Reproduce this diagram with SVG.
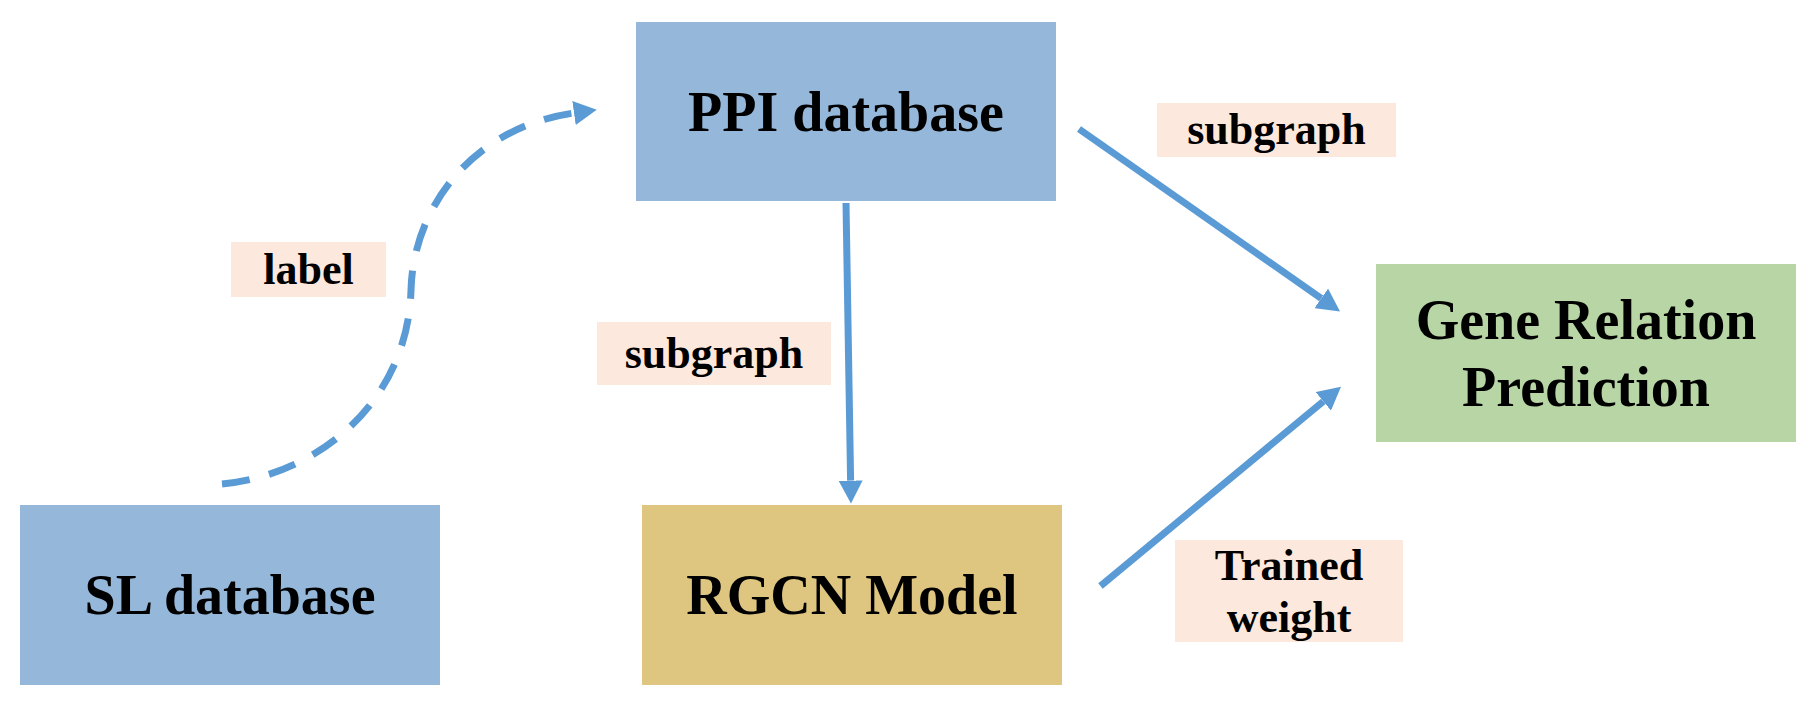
<svg xmlns="http://www.w3.org/2000/svg" width="1810" height="705" viewBox="0 0 1810 705">
<style>
.node{font-family:"Liberation Serif","Times New Roman",serif;font-weight:bold;font-size:56px;fill:#000;text-anchor:middle}
.lbl{font-family:"Liberation Serif","Times New Roman",serif;font-weight:bold;font-size:44px;fill:#000;text-anchor:middle}
.lblbox{fill:#FCE8DC}
.conn{stroke:#5B9BD5;stroke-width:7;fill:none}
</style>
<defs>
<marker id="ah" markerUnits="userSpaceOnUse" markerWidth="24" markerHeight="24" refX="0" refY="12" orient="auto" viewBox="0 0 24 24">
<path d="M0,0 L23,12 L0,24 z" fill="#5B9BD5"/>
</marker>
</defs>
<rect width="1810" height="705" fill="#fff"/>
<g id="sl-db">
<rect x="20" y="505" width="420" height="180" fill="#95B8DA"/>
<text class="node" x="230" y="614">SL database</text>
</g>
<g id="ppi-db">
<rect x="636" y="22" width="420" height="179" fill="#95B8DA"/>
<text class="node" x="846" y="131">PPI database</text>
</g>
<g id="rgcn">
<rect x="642" y="505" width="420" height="180" fill="#DFC680"/>
<text class="node" x="852" y="614">RGCN Model</text>
</g>
<g id="grp">
<rect x="1376" y="264" width="420" height="178" fill="#B8D6A5"/>
<text class="node" x="1586" y="339">Gene Relation</text>
<text class="node" x="1586" y="406">Prediction</text>
</g>
<g id="connectors">
<path class="conn" stroke-dasharray="28,20" d="M222,484 C320,475 408,400 411,290 C413,210 470,128 574,113" marker-end="url(#ah)"/>
<line class="conn" x1="846" y1="203" x2="850.6" y2="480.6" marker-end="url(#ah)"/>
<line class="conn" x1="1079" y1="129" x2="1321.2" y2="298.4" marker-end="url(#ah)"/>
<line class="conn" x1="1100.5" y1="586" x2="1323.3" y2="401.4" marker-end="url(#ah)"/>
</g>
<g id="label-label">
<rect class="lblbox" x="231" y="242" width="155" height="55"/>
<text class="lbl" x="308.5" y="284">label</text>
</g>
<g id="label-subgraph-1">
<rect class="lblbox" x="597" y="322" width="234" height="63"/>
<text class="lbl" x="714" y="368">subgraph</text>
</g>
<g id="label-subgraph-2">
<rect class="lblbox" x="1157" y="103" width="239" height="54"/>
<text class="lbl" x="1276.5" y="144">subgraph</text>
</g>
<g id="label-trained">
<rect class="lblbox" x="1175" y="540" width="228" height="102"/>
<text class="lbl" x="1289" y="580">Trained</text>
<text class="lbl" x="1289" y="632">weight</text>
</g>
</svg>
